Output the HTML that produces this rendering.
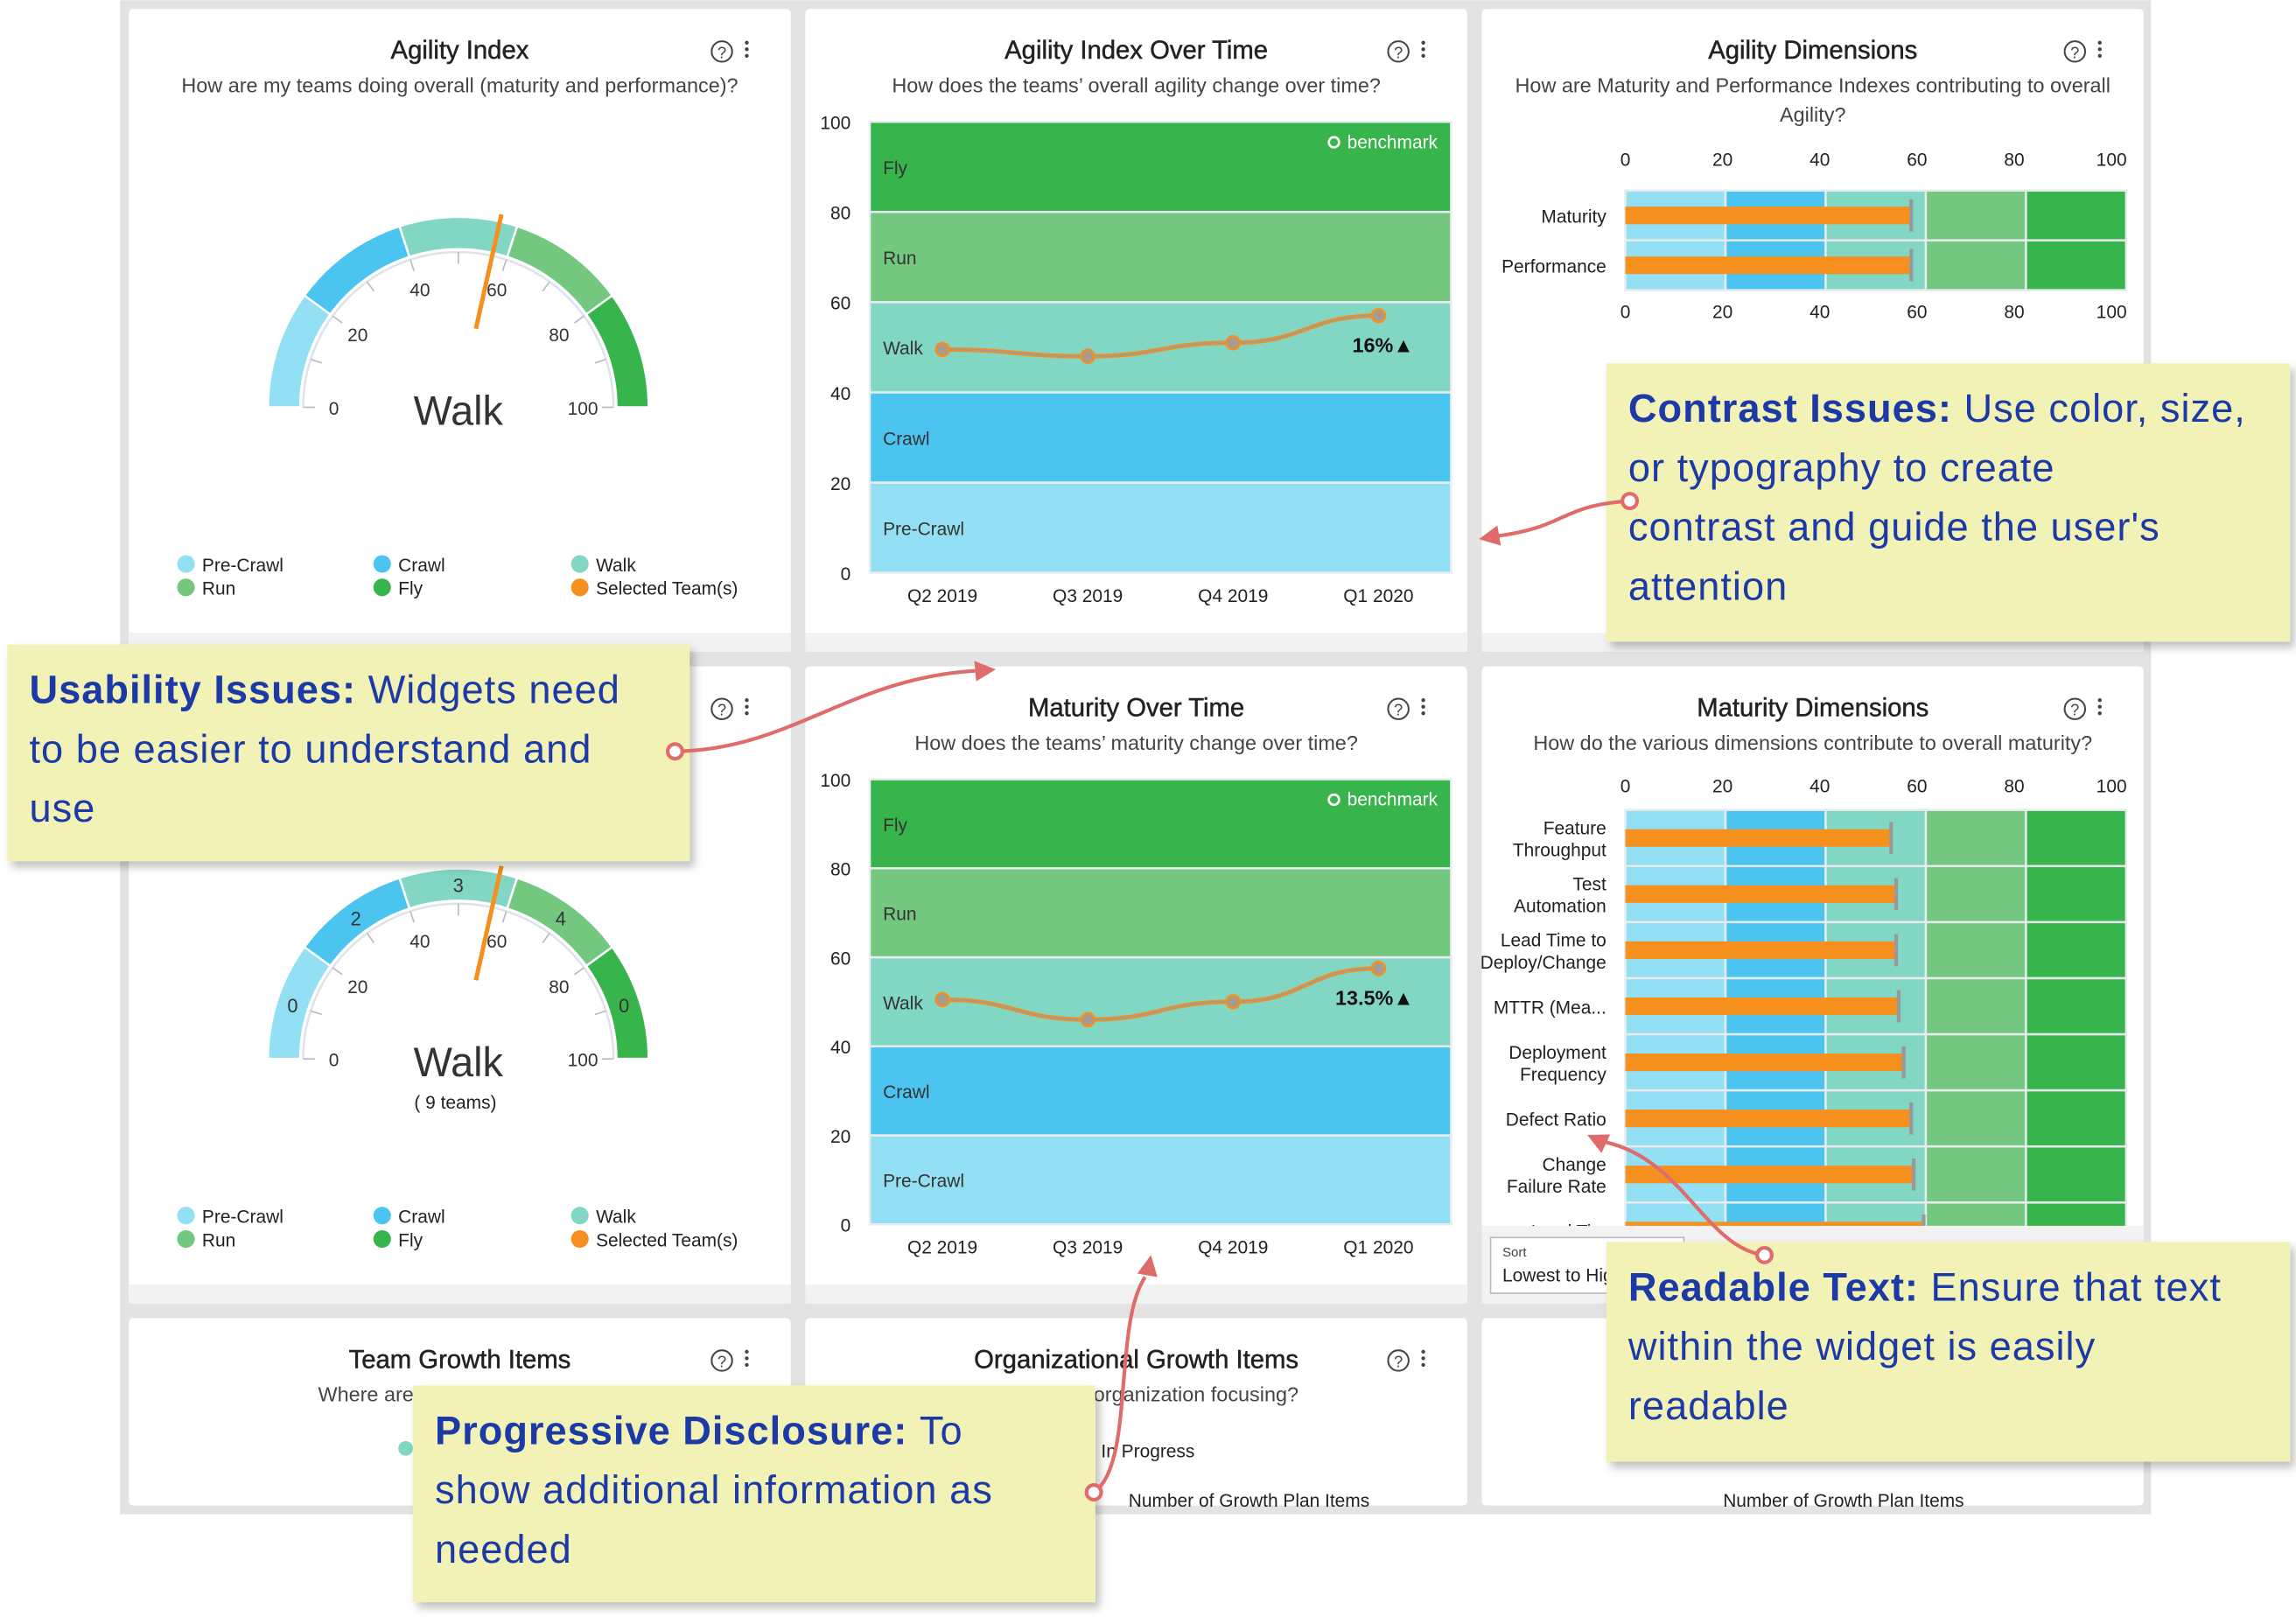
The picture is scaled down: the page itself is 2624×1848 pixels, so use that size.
<!DOCTYPE html>
<html><head><meta charset="utf-8"><style>
html,body{margin:0;padding:0;background:#fff;width:2624px;height:1848px;overflow:hidden}
svg{display:block}
text{font-family:"Liberation Sans",sans-serif}
#callouts text{letter-spacing:0.6px}
</style></head><body>
<svg id="root" width="2624" height="1848" viewBox="0 0 1568 1104" xmlns="http://www.w3.org/2000/svg">
<defs>
<filter id="sh" x="-5%" y="-5%" width="115%" height="120%"><feDropShadow dx="3" dy="4" stdDeviation="3" flood-color="#000" flood-opacity="0.25"/></filter>
<clipPath id="mdclip"><rect x="1012" y="520" width="452" height="317"/></clipPath>
</defs>
<rect x="82" y="0" width="1387" height="1034" fill="#e3e3e3"/>
<g id="cards"></g>
<g id="charts"></g>
<g id="callouts"></g>
</svg>
<script>
const NS='http://www.w3.org/2000/svg';
function mk(p,tag,at,txt){const e=document.createElementNS(NS,tag);for(const k in at)e.setAttribute(k,at[k]);if(txt!==undefined)e.textContent=txt;p.appendChild(e);return e;}
const cards=document.getElementById('cards'),charts=document.getElementById('charts'),callouts=document.getElementById('callouts');

/* ---- data ---- */
const bandNames=['Pre-Crawl','Crawl','Walk','Run','Fly'];
const bandColors=['#93dff3','#4cc4f0','#82d6c4','#74c77e','#38b44c'];
const quarters=['Q2 2019','Q3 2019','Q4 2019','Q1 2020'];
const agilityOverTime=[49.5,48,51,57];
const maturityOverTime=[50.5,46,50,57.5];
const yTicks=[0,20,40,60,80,100];
const agilityGaugeValue=57;
const maturityGaugeValue=57;
const maturityBandCounts=['0','2','3','4','0'];
const agilityDims=['Maturity','Performance'];
const agilityDimValues=[57,57];
const matDims=[['Feature','Throughput'],['Test','Automation'],['Lead Time to','Deploy/Change'],['MTTR (Mea...'],['Deployment','Frequency'],['Defect Ratio'],['Change','Failure Rate'],['Lead Ti...']];
const matDimValues=[53,54,54,54.5,55.5,57,57.5,59.5];

/* ---- cards ---- */
const colX=[88,550,1012],rowY=[[6,445],[455,890],[900,1028]];
const titles=[
 ['Agility Index','How are my teams doing overall (maturity and performance)?'],
 ['Agility Index Over Time','How does the teams\u2019 overall agility change over time?'],
 ['Agility Dimensions','How are Maturity and Performance Indexes contributing to overall','Agility?'],
 ['Maturity Index',''],
 ['Maturity Over Time','How does the teams\u2019 maturity change over time?'],
 ['Maturity Dimensions','How do the various dimensions contribute to overall maturity?'],
 ['Team Growth Items','Where are my teams focusing?'],
 ['Organizational Growth Items','Where is my organization focusing?'],
 ['','']];
for(let r=0;r<3;r++)for(let c=0;c<3;c++){
 const x=colX[c],y=rowY[r][0],h=rowY[r][1]-y,t=titles[r*3+c];
 const g=mk(cards,'g',{});
 
 
 mk(g,'rect',{x:x,y:y,width:452,height:h,fill:'#fff',rx:3});
 if(r<2){mk(g,'rect',{x:x,y:y+h-13,width:452,height:13,fill:'#f2f2f2'});}
 if(t[0]){
  const tt=mk(g,'text',{x:x+226,y:y+34,'text-anchor':'middle','font-size':17.5,fill:'#222',stroke:'#222','stroke-width':0.3},t[0]);
  
  
 }
 if(t[1]){const st=mk(g,'text',{x:x+226,y:y+57,'text-anchor':'middle','font-size':14,fill:'#444'},t[1]);
  
  }
 if(t[2]){mk(g,'text',{x:x+226,y:y+77,'text-anchor':'middle','font-size':14,fill:'#444'},t[2]);}
 if(t[0]){
  const hq=mk(g,'g',{});
  
  
  mk(hq,'circle',{cx:x+405,cy:y+29,r:7,fill:'none',stroke:'#444','stroke-width':1.2});
  mk(hq,'text',{x:x+405,y:y+33.5,'text-anchor':'middle','font-size':11,fill:'#444'},'?');
  const mn=mk(g,'g',{});
  
  
  for(let k=0;k<3;k++)mk(mn,'circle',{cx:x+422,cy:y+23+k*4.5,r:1.3,fill:'#444'});
 }
}

/* ---- gauges ---- */
function ang(v){return Math.PI*(1-v/100);}
function pt(cx,cy,r,v){return [cx+r*Math.cos(ang(v)),cy-r*Math.sin(ang(v))];}
function gauge(cx,cy,value,bigLabel,counts,teams,name){
 const g=mk(charts,'g',{});
 
 
 const r0=108,r1=130;
 for(let i=0;i<5;i++){
  const a=pt(cx,cy,r1,i*20),b=pt(cx,cy,r1,i*20+20),c=pt(cx,cy,r0,i*20+20),d=pt(cx,cy,r0,i*20);
  const p=mk(g,'path',{d:`M${a} A${r1},${r1} 0 0 1 ${b} L${c} A${r0},${r0} 0 0 0 ${d}Z`,fill:bandColors[i],stroke:'#fff','stroke-width':1.5});
  
  
  if(counts){const m=pt(cx,cy,(r0+r1)/2,i*20+10);mk(g,'text',{x:m[0],y:m[1]+5,'text-anchor':'middle','font-size':13,fill:'#333'},counts[i]);}
 }
 mk(g,'path',{d:`M${pt(cx,cy,106,0)} A106,106 0 0 1 ${pt(cx,cy,106,100)}`,fill:'none',stroke:'#dde3ea','stroke-width':1.5});
 for(let v=0;v<=100;v+=10){const a=pt(cx,cy,98,v),b=pt(cx,cy,106,v);mk(g,'line',{x1:a[0],y1:a[1],x2:b[0],y2:b[1],stroke:'#bbb','stroke-width':1});}
 for(let v=0;v<=100;v+=20){const p=pt(cx,cy,85,v);const t=mk(g,'text',{x:p[0],y:p[1]+5,'text-anchor':'middle','font-size':12.5,fill:'#333'},String(v));
  
  }
 const n0=pt(cx,cy,55,value),n1=pt(cx,cy,135,value);
 const nd=mk(g,'line',{x1:n0[0],y1:n0[1],x2:n1[0],y2:n1[1],stroke:'#f5901e','stroke-width':3});
 
 
 mk(g,'text',{x:cx,y:cy+12,'text-anchor':'middle','font-size':28,fill:'#333'},bigLabel);
 if(teams)mk(g,'text',{x:cx-2,y:cy+34,'text-anchor':'middle','font-size':12.5,fill:'#222'},teams);
}
gauge(313,278,agilityGaugeValue,'Walk',null,null,'agility-gauge');
gauge(313,723,maturityGaugeValue,'Walk',maturityBandCounts,'( 9 teams)','maturity-gauge');

function legend(y0,name){
 const g=mk(charts,'g',{});
 
 
 const items=[['Pre-Crawl',bandColors[0]],['Crawl',bandColors[1]],['Walk',bandColors[2]],['Run',bandColors[3]],['Fly',bandColors[4]],['Selected Team(s)','#f5901e']];
 items.forEach((it,i)=>{
  const cx=[127,261,396][i%3],cy=y0+Math.floor(i/3)*16;
  const e=mk(g,'g',{});
  
  
  mk(e,'circle',{cx:cx,cy:cy,r:6,fill:it[1]});
  mk(e,'text',{x:cx+11,y:cy+5,'font-size':12.5,fill:'#222'},it[0]);
 });
}
legend(385,'agility-legend');legend(830,'maturity-legend');

/* ---- line band charts ---- */
function bandLine(top,bottom,vals,pct,name){
 const g=mk(charts,'g',{});
 
 
 const L=594,R=991;
 const y=v=>bottom-(bottom-top)*v/100;
 const x=i=>L+(R-L)*(i+0.5)/quarters.length;
 for(let i=0;i<5;i++){
  const b=mk(g,'rect',{x:L,y:y(i*20+20),width:R-L,height:y(i*20)-y(i*20+20),fill:bandColors[i],stroke:'#e8eef0','stroke-width':1.5});
  
  
  mk(g,'text',{x:603,y:y(i*20+10)+5,'font-size':12.5,fill:'#333'},bandNames[i]);
 }
 yTicks.forEach(v=>{const t=mk(g,'text',{x:581,y:y(v)+5,'text-anchor':'end','font-size':12.5,fill:'#222'},String(v));
  
  });
 quarters.forEach((q,i)=>{const t=mk(g,'text',{x:x(i),y:bottom+20,'text-anchor':'middle','font-size':12.5,fill:'#222'},q);
  
  });
 const bm=mk(g,'g',{});
 
 
 mk(bm,'circle',{cx:911,cy:top+14,r:3.5,fill:'none',stroke:'#fff','stroke-width':1.6});
 mk(bm,'text',{x:920,y:top+18,'font-size':12.5,fill:'#fff'},'benchmark');
 let d='';
 vals.forEach((v,i)=>{const px=x(i),py=y(v);if(i==0)d=`M${px},${py}`;else{const pxp=x(i-1),pyp=y(vals[i-1]),m=(px-pxp)/2;d+=` C${pxp+m},${pyp} ${px-m},${py} ${px},${py}`;}});
 const ln=mk(g,'path',{d:d,fill:'none',stroke:'#f5901e','stroke-width':3});
 
 
 mk(g,'path',{d:d,fill:'none',stroke:'#a89a8c','stroke-width':1.2});
 vals.forEach((v,i)=>{const p=mk(g,'circle',{cx:x(i),cy:y(v),r:4.5,fill:'#a89a8c',stroke:'#f5901e','stroke-width':1.5});
  
  });
 const n=vals.length-1;
 const lab=mk(g,'text',{x:x(n)+24,y:y(vals[n])+25,'text-anchor':'end','font-size':14,'font-weight':'bold',fill:'#111'},pct+'\u25B2');
 
 
}
bandLine(83,391,agilityOverTime,'16%','agility-over-time-chart');
bandLine(532,836,maturityOverTime,'13.5%','maturity-over-time-chart');

/* ---- bullet bar charts ---- */
function bullets(top,rowH,labels,vals,tickTop,tickBot,name,clip){
 const g=mk(charts,'g',clip?{'clip-path':'url(#mdclip)'}:{});
 
 
 const L=1110,R=1452,x=v=>L+(R-L)*v/100,tx=v=>L+(1442-L)*v/100;
 labels.forEach((lb,i)=>{
  const ry=top+i*rowH;
  for(let k=0;k<5;k++)mk(g,'rect',{x:x(k*20),y:ry,width:x(20)-x(0),height:rowH,fill:bandColors[k],stroke:'#e6ebee','stroke-width':1.5});
  const lines=Array.isArray(lb)?lb:[lb];
  lines.forEach((s,j)=>mk(g,'text',{x:1097,y:ry+rowH/2+5+(j-(lines.length-1)/2)*15,'text-anchor':'end','font-size':12.5,fill:'#222'},s));
  const b=mk(g,'rect',{x:L,y:ry+rowH/2-6,width:x(vals[i])-L,height:12,fill:'#f5901e'});
  
  
  mk(g,'rect',{x:x(vals[i])-1,y:ry+rowH/2-11,width:2.5,height:22,fill:'#999'});
 });
 [0,20,40,60,80,100].forEach(v=>{
  const t=mk(charts,'text',{x:tx(v),y:tickTop,'text-anchor':'middle','font-size':12.5,fill:'#222'},String(v));
  
  
  if(tickBot){mk(charts,'text',{x:tx(v),y:tickBot,'text-anchor':'middle','font-size':12.5,fill:'#222'},String(v));}
 });
}
bullets(130,34,agilityDims,agilityDimValues,113,217,'agility-dimensions-chart',false);
bullets(553,38.3,matDims,matDimValues,541,null,'maturity-dimensions-chart',true);
mk(charts,'rect',{x:1012,y:837,width:452,height:40,fill:'#f2f2f2'});
const sort=mk(charts,'g',{});


mk(sort,'rect',{x:1018,y:845,width:132,height:38,fill:'#fff',stroke:'#bbb'});
mk(sort,'text',{x:1026,y:858,'font-size':9,fill:'#444'},'Sort');
mk(sort,'text',{x:1026,y:875,'font-size':12.5,fill:'#222'},'Lowest to Highest');

/* bottom row extras */
mk(charts,'circle',{cx:277,cy:989,r:5,fill:'#82d6c4'});
mk(charts,'text',{x:752,y:995,'font-size':12.5,fill:'#222'},'In Progress');
mk(charts,'text',{x:853,y:1029,'text-anchor':'middle','font-size':12.5,fill:'#222'},'Number of Growth Plan Items');
mk(charts,'text',{x:1259,y:1029,'text-anchor':'middle','font-size':12.5,fill:'#222'},'Number of Growth Plan Items');

/* ---- callouts ---- */
function callout(x,y,w,h,head,lines,name){
 const g=mk(callouts,'g',{});
 
 
 mk(g,'rect',{x:x,y:y,width:w,height:h,fill:'#f2f1b6',filter:'url(#sh)'});
 lines.forEach((ln,i)=>{
  const t=mk(g,'text',{x:x+15,y:y+40+i*40.5,'font-size':27,fill:'#1b3aa6'});
  if(i==0){mk(t,'tspan',{'font-weight':'bold'},head+' ');}
  mk(t,'tspan',{},ln);
 });
}
callout(1097,248,467,190,'Contrast Issues:',['Use color, size,','or typography to create','contrast and guide the user\'s','attention'],'contrast-callout');
callout(5,440,466,148,'Usability Issues:',['Widgets need','to be easier to understand and','use'],'usability-callout');
callout(1097,848,467,150,'Readable Text:',['Ensure that text','within the widget is easily','readable'],'readable-callout');
callout(282,946,466,148,'Progressive Disclosure:',['To','show additional information as','needed'],'progressive-callout');

function arrow(d,cx,cy,hx,hy,ang,name){
 const g=mk(callouts,'g',{});
 
 
 mk(g,'path',{d:d,fill:'none',stroke:'#e06b6b','stroke-width':2.5});
 mk(g,'circle',{cx:cx,cy:cy,r:5,fill:'#fff',stroke:'#e06b6b','stroke-width':2.5});
 const a=ang*Math.PI/180,s=14;
 const p1=[hx-s*Math.cos(a)+7*Math.sin(a),hy-s*Math.sin(a)-7*Math.cos(a)],p2=[hx-s*Math.cos(a)-7*Math.sin(a),hy-s*Math.sin(a)+7*Math.cos(a)];
 mk(g,'path',{d:`M${hx},${hy} L${p1} L${p2}Z`,fill:'#e06b6b'});
}
arrow('M1113,342 C1065,345 1070,360 1022,366',1113,342,1010,368,170,'contrast-arrow');
arrow('M461,513 C540,512 580,463 666,458',461,513,680,457,-5,'usability-arrow');
arrow('M747,1019 C775,1000 760,905 782,872',747,1019,786,857,-80,'progressive-arrow');
arrow('M1205,857 C1165,852 1150,792 1097,780',1205,857,1084,775,-155,'readable-arrow');
</script>
</body></html>
